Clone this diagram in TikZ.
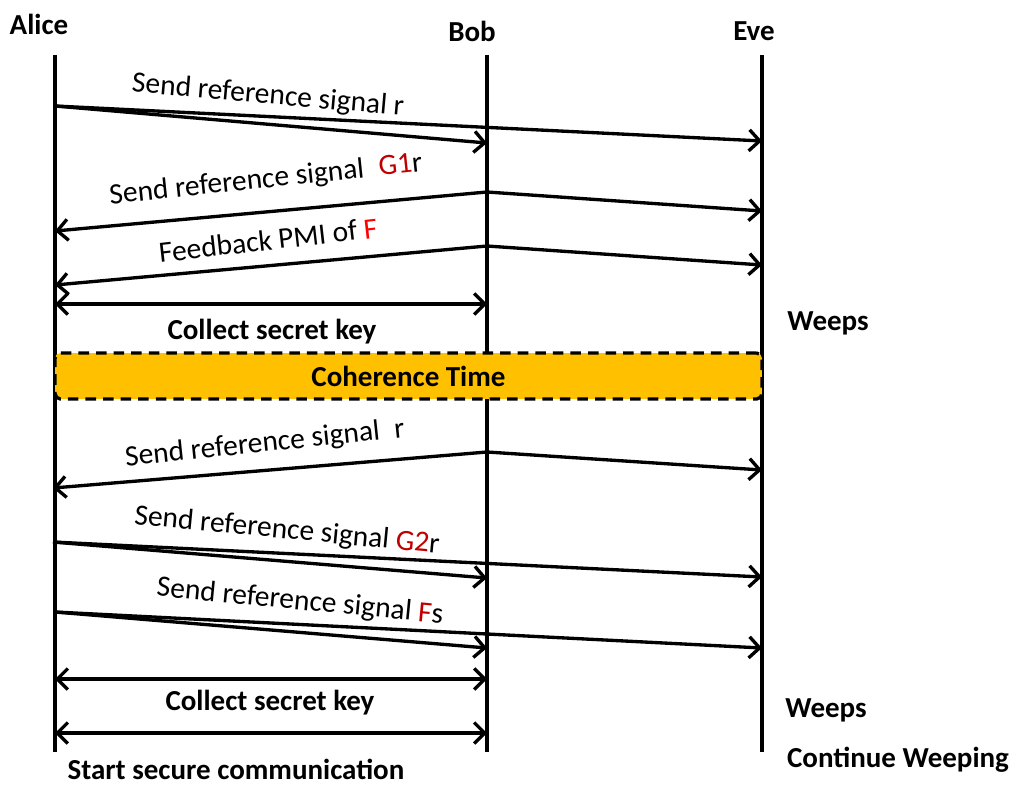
\documentclass[tikz,border=0pt]{standalone}
\usepackage{fontspec}
\setmainfont{Carlito}
\usetikzlibrary{arrows.meta}
\definecolor{clrCoh}{HTML}{FFC000}
\definecolor{clrMat}{HTML}{C00000}
\definecolor{clrPmi}{HTML}{FF0000}

\begin{document}
\begin{tikzpicture}[x=0.02cm, y=-0.02cm,
    party/.style={font=\fontsize{16.5}{18}\selectfont\bfseries, inner sep=0pt},
    life/.style={line width=1.9pt},
    msg/.style={-{Straight Barb[length=6pt, width=12pt]}, line width=1.9pt},
    both/.style={{Straight Barb[length=6pt, width=12pt]}-{Straight Barb[length=6pt, width=12pt]}, line width=1.9pt},
    lbl/.style={font=\fontsize{16.8}{18}\selectfont, inner sep=0pt},
    note/.style={font=\fontsize{16.5}{18}\selectfont\bfseries, inner sep=0pt},
    cohbox/.style={draw, dash pattern=on 6pt off 4pt, line width=1.9pt, fill=clrCoh, rounded corners=3pt, minimum width=14.14cm, minimum height=0.92cm, font=\fontsize{16.5}{18}\selectfont\bfseries},
]
\useasboundingbox (0,0) rectangle (1017,787);

% Parties and lifelines
\node[party] (alice) at (39,24) {Alice};
\node[party] (bob) at (472,31) {Bob};
\node[party] (eve) at (754,31) {Eve};
\coordinate (aTop) at (55,55);  \coordinate (aBot) at (55,752);
\coordinate (bTop) at (487,55); \coordinate (bBot) at (487,752);
\coordinate (eTop) at (762,55); \coordinate (eBot) at (762,752);
\draw[life] (aTop) -- (aBot);
\draw[life] (bTop) -- (bBot);
\draw[life] (eTop) -- (eBot);

% First phase
\coordinate (s1) at (55,106);
\coordinate (b1) at (487,143);
\coordinate (e1) at (762,141);
\draw[msg] (s1) -- (b1);
\draw[msg] (s1) -- (e1);
\node[lbl, rotate=-5] (m1) at (268,96) {Send reference signal r};

\coordinate (s2) at (487,192);
\coordinate (a2) at (55,231);
\coordinate (e2) at (762,211);
\draw[msg] (s2) -- (a2);
\draw[msg] (s2) -- (e2);
\node[lbl, rotate=6] (m2) at (266,180) {Send reference signal\enspace{\color{clrMat}G1}r};

\coordinate (s3) at (487,246);
\coordinate (a3) at (55,285);
\coordinate (e3) at (762,265);
\draw[msg] (s3) -- (a3);
\draw[msg] (s3) -- (e3);
\node[lbl, rotate=6.5] (m3) at (268,240) {Feedback PMI of {\color{clrPmi}F}};

\coordinate (k1a) at (55,304);
\coordinate (k1b) at (487,304);
\draw[both] (k1a) -- (k1b);
\node[note] (key1) at (272,332) {Collect secret key};
\node[note] (weep1) at (828,323) {Weeps};

% Coherence time
\node[cohbox] (coh) at (408.5,376) {Coherence Time};

% Second phase
\coordinate (s4) at (487,452);
\coordinate (a4) at (53,488);
\coordinate (e4) at (762,470);
\draw[msg] (s4) -- (a4);
\draw[msg] (s4) -- (e4);
\node[lbl, rotate=6] (m4) at (265,444) {Send reference signal\enspace r};

\coordinate (s5) at (53,542);
\coordinate (b5) at (487,578);
\coordinate (e5) at (762,577);
\draw[msg] (s5) -- (b5);
\draw[msg] (s5) -- (e5);
\node[lbl, rotate=-5.5] (m5) at (287,531) {Send reference signal {\color{clrMat}G2}r};

\coordinate (s6) at (55,612);
\coordinate (b6) at (487,648);
\coordinate (e6) at (762,648);
\draw[msg] (s6) -- (b6);
\draw[msg] (s6) -- (e6);
\node[lbl, rotate=-5.5] (m6) at (300,602) {Send reference signal {\color{clrMat}F}s};

\coordinate (k2a) at (55,679);
\coordinate (k2b) at (487,679);
\coordinate (k3a) at (55,733);
\coordinate (k3b) at (487,733);
\draw[both] (k2a) -- (k2b);
\draw[both] (k3a) -- (k3b);
\node[note] (key2) at (270,703) {Collect secret key};
\node[note] (weep2) at (826,710) {Weeps};
\node[note] (weep3) at (898,760) {Continue Weeping};
\node[note] (start) at (236,769) {Start secure communication};

\end{tikzpicture}
\end{document}
